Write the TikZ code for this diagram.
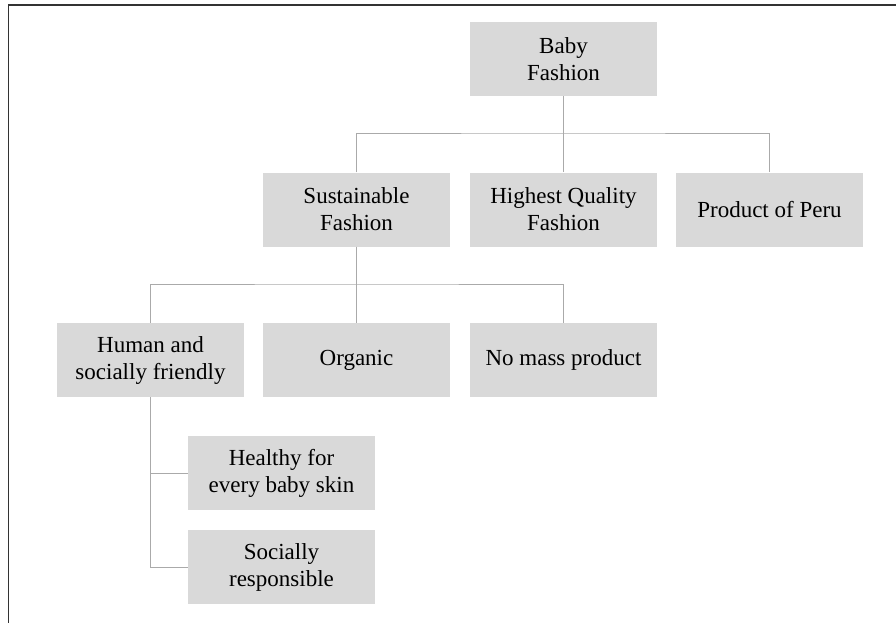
\documentclass[tikz,border=0pt]{standalone}
\usepackage{fontspec}
\setmainfont{Liberation Serif}
\definecolor{boxgray}{RGB}{217,217,217}
\definecolor{linegray}{RGB}{170,170,170}
\tikzset{
  item/.style={fill=boxgray, minimum width=187pt, minimum height=74pt,
    inner sep=0pt, align=center, font=\fontsize{23}{27}\selectfont},
  conn/.style={draw=linegray, line width=1pt},
  frame/.style={draw=black!80, line width=1.4pt}
}
\begin{document}
\begin{tikzpicture}[x=1pt, y=-1pt]
    \useasboundingbox (0,0) rectangle (896,623);

    % Nodes
    \node[item] (baby) at (563.5,59) {Baby\\Fashion};
    \node[item] (sust) at (356.5,209.5) {Sustainable\\Fashion};
    \node[item] (hqf) at (563.5,209.5) {Highest Quality\\Fashion};
    \node[item] (peru) at (769.5,209.5) {Product of Peru};
    \node[item] (human) at (150.5,360) {Human and\\socially friendly};
    \node[item] (organic) at (356.5,360) {Organic};
    \node[item] (nomass) at (563.5,360) {No mass product};
    \node[item] (healthy) at (281.5,473) {Healthy for\\every baby skin};
    \node[item] (socresp) at (281.5,567) {Socially\\responsible};

    \coordinate (top-bus) at (563.5,133);
    \coordinate (mid-bus) at (356.5,284);

    % frame of the page
    \draw[frame] (8.5,623) -- (8.5,5) -- (896,5);

    % Lines
    \draw[conn] (baby) -- (top-bus);
    \draw[conn] (sust.north) |- (top-bus) -| (peru.north);
    \draw[conn] (top-bus) -- (hqf.north);
    \draw[conn] (sust) -- (mid-bus);
    \draw[conn] (human.north) |- (mid-bus) -| (nomass.north);
    \draw[conn] (mid-bus) -- (organic.north);
    \draw[conn] (human.south) |- (socresp.west);
    \draw[conn] (human.south |- healthy.west) -- (healthy.west);

  \end{tikzpicture}
\end{document}
